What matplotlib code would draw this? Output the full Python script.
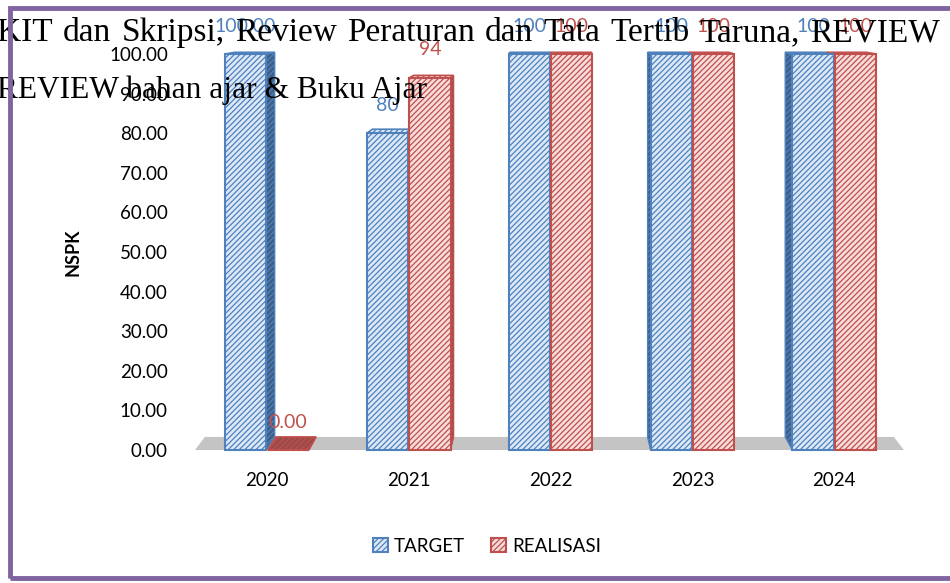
import matplotlib
matplotlib.use('Agg')
import matplotlib.pyplot as plt
from matplotlib.patches import Polygon, Rectangle, Patch

# NSPK target vs realisasi per tahun
years = ['2020', '2021', '2022', '2023', '2024']
target = [100, 80, 100, 100, 100]
realisasi = [0, 94, 100, 100, 100]
target_labels = ['100.00', '80', '100', '100', '100']
realisasi_labels = ['0.00', '94', '100', '100', '100']
y_ticks = [0, 10, 20, 30, 40, 50, 60, 70, 80, 90, 100]

title_lines = ['KIT dan Skripsi, Review Peraturan dan Tata Tertib Taruna, REVIEW',
               'REVIEW bahan ajar & Buku Ajar']

BLUE, BLUE_FILL, BLUE_SIDE = '#4F81BD', '#DCE8F6', '#3E5F86'
RED, RED_FILL, RED_SIDE = '#C0504D', '#F6DCDB', '#9A4A48'

plt.rcParams['font.family'] = ['Lato', 'DejaVu Sans']
plt.rcParams['hatch.linewidth'] = 0.9

W, H = 950, 583
fig = plt.figure(figsize=(W / 100, H / 100), dpi=100)
ax = fig.add_axes([184.6 / W, 133 / H, 732 / W, 396 / H])
ax.set_xlim(-0.58, 4.58)
ax.set_ylim(0, 100)

bw = 0.29
depth = 3.3      # floor depth in data units
xc = 2.0         # horizontal vanishing point


def back(x, v):
    # project a front point onto the back plane of the box
    return x + (xc - x) * 0.03, v + depth * (1 - v / 115)


def draw_box(x0, v, face, edge, side):
    x1 = x0 + bw
    # side face (only visible where not covered by a neighbour)
    sx = x1 if x1 < xc else x0
    bx0, by0 = back(sx, 0)
    bxv, byv = back(sx, v)
    ax.add_patch(Polygon([(sx, 0), (sx, v), (bxv, byv), (bx0, by0)],
                         facecolor=side, edgecolor=edge, hatch='//////',
                         lw=1.0, zorder=2, clip_on=False))
    # top face
    tl, tr = back(x0, v), back(x1, v)
    ax.add_patch(Polygon([(x0, v), (x1, v), tr, tl],
                         facecolor=face if v > 0 else side, edgecolor=edge,
                         hatch='//////', lw=1.2, zorder=3, clip_on=False))
    # front face
    ax.add_patch(Rectangle((x0, 0), bw, v, facecolor=face, edgecolor=edge,
                           hatch='//////', lw=1.5, zorder=4, clip_on=False))


# grey floor
ax.add_patch(Polygon([(-0.507, 0), (4.49, 0), (4.42, depth), (-0.437, depth)],
                     facecolor='#C4C4C4', edgecolor='none', zorder=1, clip_on=False))

for i in range(len(years)):
    draw_box(i - bw - 0.005, target[i], BLUE_FILL, BLUE, BLUE_SIDE)
    draw_box(i + 0.005, realisasi[i], RED_FILL, RED, RED_SIDE)

for i in range(len(years)):
    ax.annotate(target_labels[i], (i - bw / 2 - 0.005, target[i]), xytext=(0, 20),
                textcoords='offset points', ha='center', va='center',
                color=BLUE, fontsize=14, zorder=6, annotation_clip=False)
    ax.annotate(realisasi_labels[i], (i + bw / 2 + 0.005, realisasi[i]), xytext=(0, 20),
                textcoords='offset points', ha='center', va='center',
                color=RED, fontsize=14, zorder=6, annotation_clip=False)

ax.set_xticks(range(len(years)))
ax.set_xticklabels(years, fontsize=13.5)
ax.set_yticks(y_ticks)
ax.set_yticklabels([f'{t:.2f}' for t in y_ticks], fontsize=13.5)
ax.tick_params(length=0)
ax.tick_params(axis='x', pad=16)
ax.tick_params(axis='y', pad=12)
for s in ax.spines.values():
    s.set_visible(False)
ax.set_ylabel('NSPK', fontsize=13, fontweight='bold', labelpad=20)

handles = [Patch(facecolor=BLUE_FILL, edgecolor=BLUE, hatch='//////', lw=1.5, label='TARGET'),
           Patch(facecolor=RED_FILL, edgecolor=RED, hatch='//////', lw=1.5, label='REALISASI')]
fig.legend(handles=handles, loc='center', bbox_to_anchor=(487 / W, 1 - 546 / H),
           ncol=2, frameon=False, fontsize=13.5, handlelength=0.8, handleheight=0.8,
           handletextpad=0.3, columnspacing=1.4)

# overlapping paragraph text: first line justified, last line ragged
renderer = fig.canvas.get_renderer()
serif = dict(family='Liberation Serif', va='baseline', ha='left', zorder=10)

last = fig.text(-3 / W, 1 - 98 / H, title_lines[1], fontsize=22.6, **serif)
w = last.get_window_extent(renderer).width
last.set_fontsize(22.6 * 430 / w)

words = title_lines[0].split(' ')
word_texts = [fig.text(0, 1 - 41 / H, wd, fontsize=24, **serif) for wd in words]
widths = [t.get_window_extent(renderer).width for t in word_texts]
left, right = -3.0, 940.0
gap = (right - left - sum(widths)) / (len(words) - 1)
x = left
for t, wd in zip(word_texts, widths):
    t.set_x(x / W)
    x += wd + gap

# purple frame
fig.add_artist(Rectangle((9.5 / W, 5 / H), 1.2, 1 - 12.5 / H, transform=fig.transFigure,
                         fill=False, edgecolor='#8064A2', lw=3.5, zorder=20))

fig.savefig('out.png', dpi=100)
